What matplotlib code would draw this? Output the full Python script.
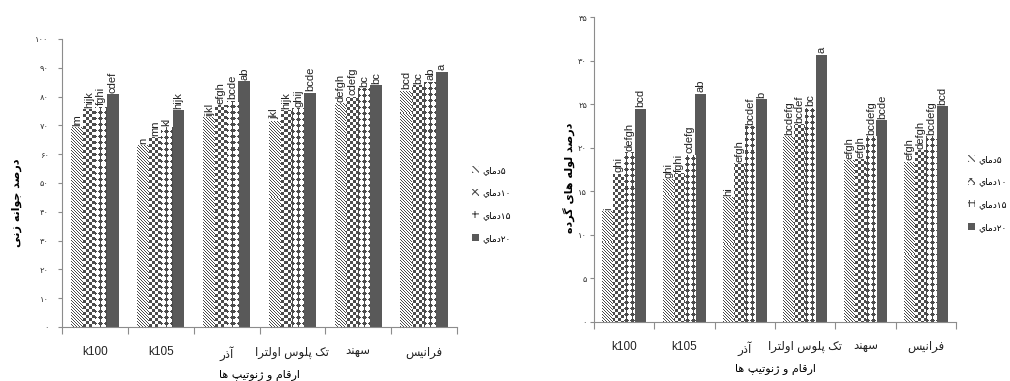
import numpy as np
import matplotlib
matplotlib.use("Agg")
import matplotlib.pyplot as plt
from matplotlib.patches import Patch

plt.rcParams['font.family'] = ['Liberation Sans', 'DejaVu Sans']
plt.rcParams['hatch.linewidth'] = 0.8

# ---------------- data ----------------
categories = ['k100', 'k105', 'آذر', 'تک پلوس اولترا', 'سهند', 'فرانیس']
series_names = ['دماي', 'دماي', 'دماي', 'دماي']
series_digits = ['۵', '۱۰', '۱۵', '۲۰']

germ_5 = [69.4, 63.1, 72.9, 71.6, 77.7, 82.1]
germ_10 = [75.6, 65.9, 77.1, 75.3, 80.0, 84.0]
germ_15 = [76.5, 69.3, 78.6, 75.9, 82.9, 85.2]
germ_20 = [80.9, 75.3, 85.3, 81.4, 84.0, 88.7]
germ_letters_5 = ['lm', 'n', 'ijkl', 'jkl', 'defgh', 'bcd']
germ_letters_10 = ['hijk', 'mn', 'efgh', 'hijk', 'cdefg', 'bc']
germ_letters_15 = ['fghi', 'kl', 'bcde', 'ghij', 'bc', 'ab']
germ_letters_20 = ['cdef', 'hijk', 'ab', 'bcde', 'bc', 'a']

tube_5 = [12.7, 16.4, 14.3, 21.3, 18.6, 18.4]
tube_10 = [17.0, 17.1, 18.2, 22.7, 18.7, 19.7]
tube_15 = [19.5, 19.2, 22.5, 24.6, 21.3, 21.3]
tube_20 = [24.5, 26.2, 25.6, 30.7, 23.2, 24.8]
tube_letters_5 = ['i', 'ghi', 'hi', 'bcdefg', 'efgh', 'efgh']
tube_letters_10 = ['ghi', 'fghi', 'efgh', 'bcdef', 'efgh', 'defgh']
tube_letters_15 = ['defgh', 'cdefg', 'bcdef', 'bc', 'bcdefg', 'bcdefg']
tube_letters_20 = ['bcd', 'ab', 'b', 'a', 'bcde', 'bcd']

germ_ticks = ['۰', '۱۰', '۲۰', '۳۰', '۴۰', '۵۰', '۶۰', '۷۰', '۸۰', '۹۰', '۱۰۰']
tube_ticks = ['۰', '۵', '۱۰', '۱۵', '۲۰', '۲۵', '۳۰', '۳۵']

ylabel_left = 'درصد جوانه زنی'
ylabel_right = 'درصد لوله های گرده'
xlabel_text = 'ارقام و ژنوتیپ ها'

# ---------------- simple Arabic shaping ----------------
FORMS = {
    'ا': ('\uFE8D', '\uFE8E', None, None),
    'آ': ('\uFE81', '\uFE82', None, None),
    'ب': ('\uFE8F', '\uFE90', '\uFE91', '\uFE92'),
    'ت': ('\uFE95', '\uFE96', '\uFE97', '\uFE98'),
    'ج': ('\uFE9D', '\uFE9E', '\uFE9F', '\uFEA0'),
    'د': ('\uFEA9', '\uFEAA', None, None),
    'ذ': ('\uFEAB', '\uFEAC', None, None),
    'ر': ('\uFEAD', '\uFEAE', None, None),
    'ز': ('\uFEAF', '\uFEB0', None, None),
    'ژ': ('\uFB8A', '\uFB8B', None, None),
    'س': ('\uFEB1', '\uFEB2', '\uFEB3', '\uFEB4'),
    'ص': ('\uFEB9', '\uFEBA', '\uFEBB', '\uFEBC'),
    'ف': ('\uFED1', '\uFED2', '\uFED3', '\uFED4'),
    'ق': ('\uFED5', '\uFED6', '\uFED7', '\uFED8'),
    'ك': ('\uFED9', '\uFEDA', '\uFEDB', '\uFEDC'),
    'ک': ('\uFB8E', '\uFB8F', '\uFB90', '\uFB91'),
    'گ': ('\uFB92', '\uFB93', '\uFB94', '\uFB95'),
    'ل': ('\uFEDD', '\uFEDE', '\uFEDF', '\uFEE0'),
    'م': ('\uFEE1', '\uFEE2', '\uFEE3', '\uFEE4'),
    'ن': ('\uFEE5', '\uFEE6', '\uFEE7', '\uFEE8'),
    'ه': ('\uFEE9', '\uFEEA', '\uFEEB', '\uFEEC'),
    'و': ('\uFEED', '\uFEEE', None, None),
    'ي': ('\uFEF1', '\uFEF2', '\uFEF3', '\uFEF4'),
    'ی': ('\uFBFC', '\uFBFD', '\uFBFE', '\uFBFF'),
    'پ': ('\uFB56', '\uFB57', '\uFB58', '\uFB59'),
}


def shape(s):
    out = []
    n = len(s)
    for i, ch in enumerate(s):
        if ch not in FORMS:
            out.append(ch)
            continue
        prev = s[i - 1] if i > 0 else None
        nxt = s[i + 1] if i < n - 1 else None
        jp = prev in FORMS and FORMS[prev][2] is not None
        jn = nxt in FORMS and FORMS[ch][2] is not None
        iso, fin, ini, med = FORMS[ch]
        if jp and jn:
            out.append(med)
        elif jp:
            out.append(fin)
        elif jn:
            out.append(ini)
        else:
            out.append(iso)
    return ''.join(out)


def rtl(s):
    return shape(s)[::-1]


# ---------------- patterns ----------------
DARK = np.array([0.30, 0.30, 0.30])
WHITE = np.array([1.0, 1.0, 1.0])


def tile_diag():
    t = np.zeros((3, 3), bool)
    for r in range(3):
        t[r, r] = True
    return t


def tile_checker():
    t = np.zeros((6, 6), bool)
    t[:3, :3] = True
    t[3:, 3:] = True
    return t


def tile_diamond():
    rows = ["..X...",
            ".XXX..",
            "XXXXX.",
            ".XXX..",
            "..X...",
            "..X..."]
    return np.array([[c == 'X' for c in r] for r in rows])


def pattern_image(tile, hpx, wpx):
    th, tw = tile.shape
    big = np.tile(tile, (hpx // th + 2, wpx // tw + 2))[:hpx, :wpx]
    img = np.where(big[..., None], DARK, WHITE)
    return img


FIG_W, FIG_H = 1010, 381
fig = plt.figure(figsize=(FIG_W / 100, FIG_H / 100), dpi=100)

left_box = [62 / FIG_W, (FIG_H - 327) / FIG_H, 395 / FIG_W, 288 / FIG_H]
right_box = [594 / FIG_W, (FIG_H - 321.7) / FIG_H, 362 / FIG_W, 304.4 / FIG_H]

AXIS_GRAY = '#8c8c8c'
SOLID = '#595959'
tiles = [tile_diag(), tile_checker(), tile_diamond(), None]


def draw_panel(box, series, letters, ymax, yticks, ytick_labels, ylabel, ylabel_xy, ypad):
    ax = fig.add_axes(box)
    hpx = int(round(box[3] * FIG_H))
    wpx = int(round(box[2] * FIG_W))
    x = np.arange(len(categories))
    w = 0.18
    offs = [-1.5, -0.5, 0.5, 1.5]
    for k, vals in enumerate(series):
        if tiles[k] is None:
            bars = ax.bar(x + offs[k] * w, vals, w, color=SOLID, linewidth=0, zorder=2)
        else:
            bars = ax.bar(x + offs[k] * w, vals, w, color='white', linewidth=0, zorder=2)
            img = pattern_image(tiles[k], hpx, wpx)
            for b in bars:
                im = ax.imshow(img, extent=(0, 1, 0, 1), transform=ax.transAxes,
                               interpolation='nearest', aspect='auto', zorder=2.5)
                im.set_clip_path(b)
        for b, lab in zip(bars, letters[k]):
            ax.annotate(lab, (b.get_x() + b.get_width() / 2, b.get_height()),
                        xytext=(0, 1), textcoords='offset points', rotation=90,
                        ha='center', va='bottom', fontsize=8,
                        color='#222222', zorder=4)
    ax.set_xlim(-0.5, len(categories) - 0.5)
    ax.set_ylim(0, ymax)
    ax.set_yticks(yticks)
    ax.set_yticklabels(ytick_labels, family='DejaVu Sans', fontsize=6)
    ax.set_xticks(x)
    ax.set_xticklabels([c if c.isascii() else rtl(c) for c in categories], fontsize=8.5)
    ax.set_xticks(np.arange(len(categories) + 1) - 0.5, minor=True)
    ax.tick_params(axis='x', which='major', length=0, pad=14, colors='#222222')
    ax.tick_params(axis='x', which='minor', length=5, color=AXIS_GRAY, width=0.8)
    ax.tick_params(axis='y', length=3, width=0.8, pad=ypad, labelcolor='#333333', color=AXIS_GRAY)
    for s in ['top', 'right']:
        ax.spines[s].set_visible(False)
    for s in ['left', 'bottom']:
        ax.spines[s].set_color(AXIS_GRAY)
        ax.spines[s].set_linewidth(0.8)
    ax.set_xlabel(rtl(xlabel_text), fontsize=8, family='DejaVu Sans', labelpad=6)
    fig.text(ylabel_xy[0] / FIG_W, 1 - ylabel_xy[1] / FIG_H, rtl(ylabel), rotation=90,
             ha='center', va='center', fontsize=8, fontweight='bold', family='DejaVu Sans')
    return ax


ax1 = draw_panel(left_box, [germ_5, germ_10, germ_15, germ_20],
                 [germ_letters_5, germ_letters_10, germ_letters_15, germ_letters_20],
                 100, np.arange(0, 101, 10), germ_ticks, ylabel_left, (17, 203), 6.5)
ax2 = draw_panel(right_box, [tube_5, tube_10, tube_15, tube_20],
                 [tube_letters_5, tube_letters_10, tube_letters_15, tube_letters_20],
                 35, np.arange(0, 36, 5), tube_ticks, ylabel_right, (569, 178), 2)

hatches = ['\\\\\\\\\\', 'xxxx', '+++', None]
handles = []
for k in range(4):
    if hatches[k] is None:
        handles.append(Patch(facecolor=SOLID, edgecolor=SOLID, linewidth=0))
    else:
        handles.append(Patch(facecolor='white', edgecolor='#4d4d4d', hatch=hatches[k], linewidth=0))
labels = [rtl(n) + d for n, d in zip(series_names, series_digits)]

for xpos, ytop in [(472, 166), (968, 155)]:
    fig.legend(handles, labels, loc='upper left',
               bbox_to_anchor=(xpos / FIG_W, 1 - ytop / FIG_H), frameon=False,
               handlelength=0.8, handleheight=0.8, labelspacing=1.5, handletextpad=0.4,
               prop={'family': 'DejaVu Sans', 'size': 6.5}, borderaxespad=0, borderpad=0)

fig.savefig('out.png', dpi=100)
